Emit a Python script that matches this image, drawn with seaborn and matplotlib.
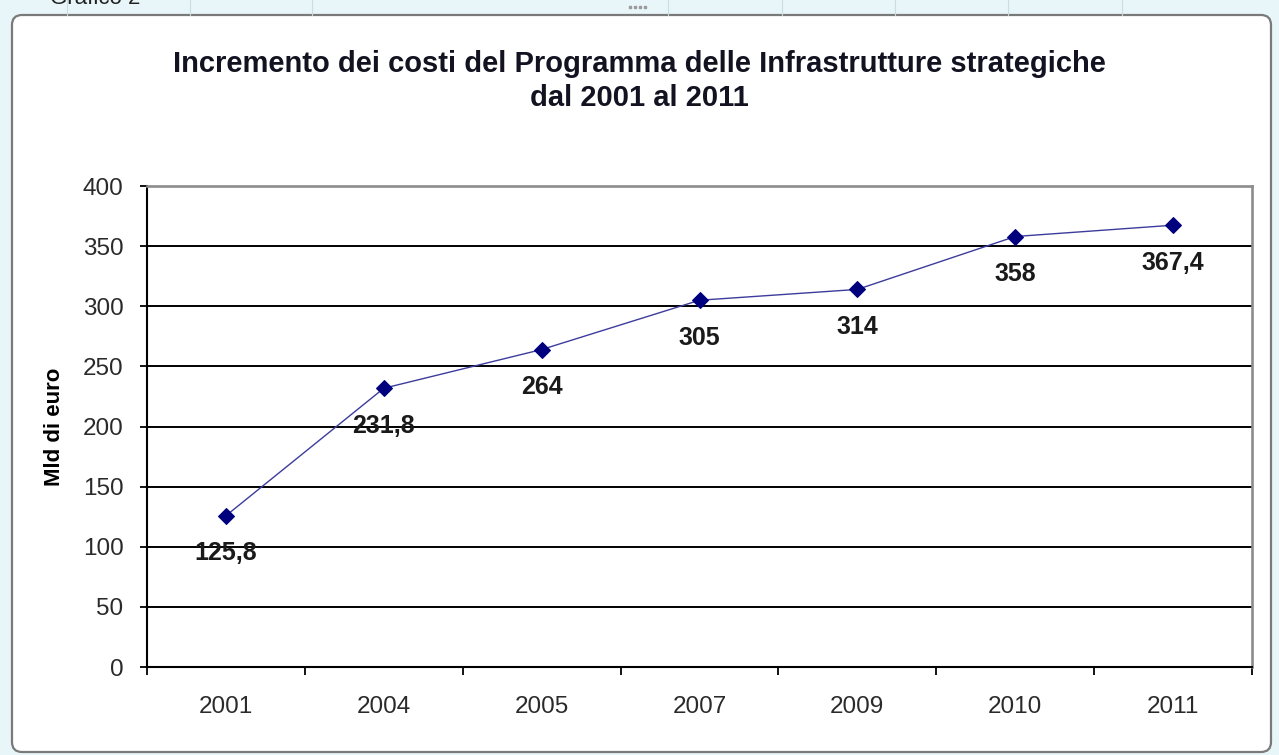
import matplotlib
matplotlib.use("Agg")
import matplotlib.pyplot as plt
from matplotlib.patches import FancyBboxPatch
from matplotlib.ticker import FixedLocator, MultipleLocator
import seaborn as sns
import pandas as pd

# Costi del Programma delle Infrastrutture strategiche (miliardi di euro)
anni = ["2001", "2004", "2005", "2007", "2009", "2010", "2011"]
costi = [125.8, 231.8, 264, 305, 314, 358, 367.4]
etichette = [f"{v:g}".replace(".", ",") for v in costi]

titolo = "Incremento dei costi del Programma delle Infrastrutture strategiche\ndal 2001 al 2011"
asse_y = "Mld di euro"

sns.set_theme(style="white")
plt.rcParams["font.family"] = ["Liberation Sans", "DejaVu Sans"]

W, H, DPI = 1279, 755, 100
fig = plt.figure(figsize=(W / DPI, H / DPI), dpi=DPI)
fig.patch.set_facecolor("#e8f5f9")

# faint spreadsheet column lines above the chart frame
for xp in [67, 190, 312, 668, 782, 895, 1008, 1122]:
    fig.add_artist(plt.Line2D([xp / W, xp / W], [1 - 15 / H, 1.0],
                              transform=fig.transFigure, color="#c9dde3", lw=0.8))
fig.text(50 / W, 1 - 4 / H, "Grafico 2", fontsize=16, color="#222222",
         ha="left", va="baseline")
# resize handle dots on the top edge of the frame
fig.add_artist(plt.Line2D([630 / W, 635 / W, 640 / W, 645 / W], [1 - 7 / H] * 4,
                          transform=fig.transFigure, linestyle="none", marker="s",
                          markersize=1.6, color="#9a9a9a"))

# chart frame with rounded corners
frame = FancyBboxPatch((12 / DPI, 3 / DPI), (1271 - 12) / DPI, (740 - 3) / DPI,
                       boxstyle="round,pad=0,rounding_size=0.1",
                       transform=fig.dpi_scale_trans, facecolor="white",
                       edgecolor="#7a7a7a", linewidth=1.6, zorder=0)
fig.add_artist(frame)

ax = fig.add_axes([147 / W, 1 - 667 / H, (1252 - 147) / W, (667 - 186) / H])
ax.set_facecolor("white")

df = pd.DataFrame({"anno": anni, "costo": costi})
sns.pointplot(data=df, x="anno", y="costo", errorbar=None, markers="D",
              color="#00007f", markersize=8.3, linewidth=1.0, ax=ax)
line = ax.lines[0]
line.set_color("#3c3c9c")
line.set_markerfacecolor("#00007f")
line.set_markeredgecolor("#00007f")
line.set_zorder(3)

for i, (v, lab) in enumerate(zip(costi, etichette)):
    ax.annotate(lab, (i, v), xytext=(0, -27), textcoords="offset points",
                ha="center", va="center", fontsize=18, fontweight="bold",
                color="#1a1a1a", zorder=4)

ax.set_xlim(-0.5, len(anni) - 0.5)
ax.set_ylim(0, 400)
ax.yaxis.set_major_locator(MultipleLocator(50))
ax.xaxis.set_minor_locator(FixedLocator([i - 0.5 for i in range(len(anni) + 1)]))

ax.set_axisbelow(True)
ax.yaxis.grid(True, color="black", linewidth=1.4)
ax.xaxis.grid(False)

for side in ["left", "bottom"]:
    ax.spines[side].set_color("black")
    ax.spines[side].set_linewidth(1.5)
for side in ["top", "right"]:
    ax.spines[side].set_color("#8c8c8c")
    ax.spines[side].set_linewidth(1.9)

ax.tick_params(axis="y", which="major", direction="out", length=5, width=1.3,
               color="black", pad=12, labelsize=17.5, labelcolor="#2a2a2a", left=True)
ax.tick_params(axis="x", which="major", length=0, pad=21, labelsize=17.5,
               labelcolor="#2a2a2a")
ax.tick_params(axis="x", which="minor", direction="out", length=6, width=1.3,
               color="black", bottom=True)

ax.set_xlabel("")
ax.set_ylabel(asse_y, fontsize=16, fontweight="bold", color="black", labelpad=13)

fig.text(0.5, 1 - 81 / H, titolo, ha="center", va="center", fontsize=21,
         fontweight="bold", color="#121220", linespacing=1.25)

fig.savefig("out.png", dpi=DPI, facecolor=fig.get_facecolor())
